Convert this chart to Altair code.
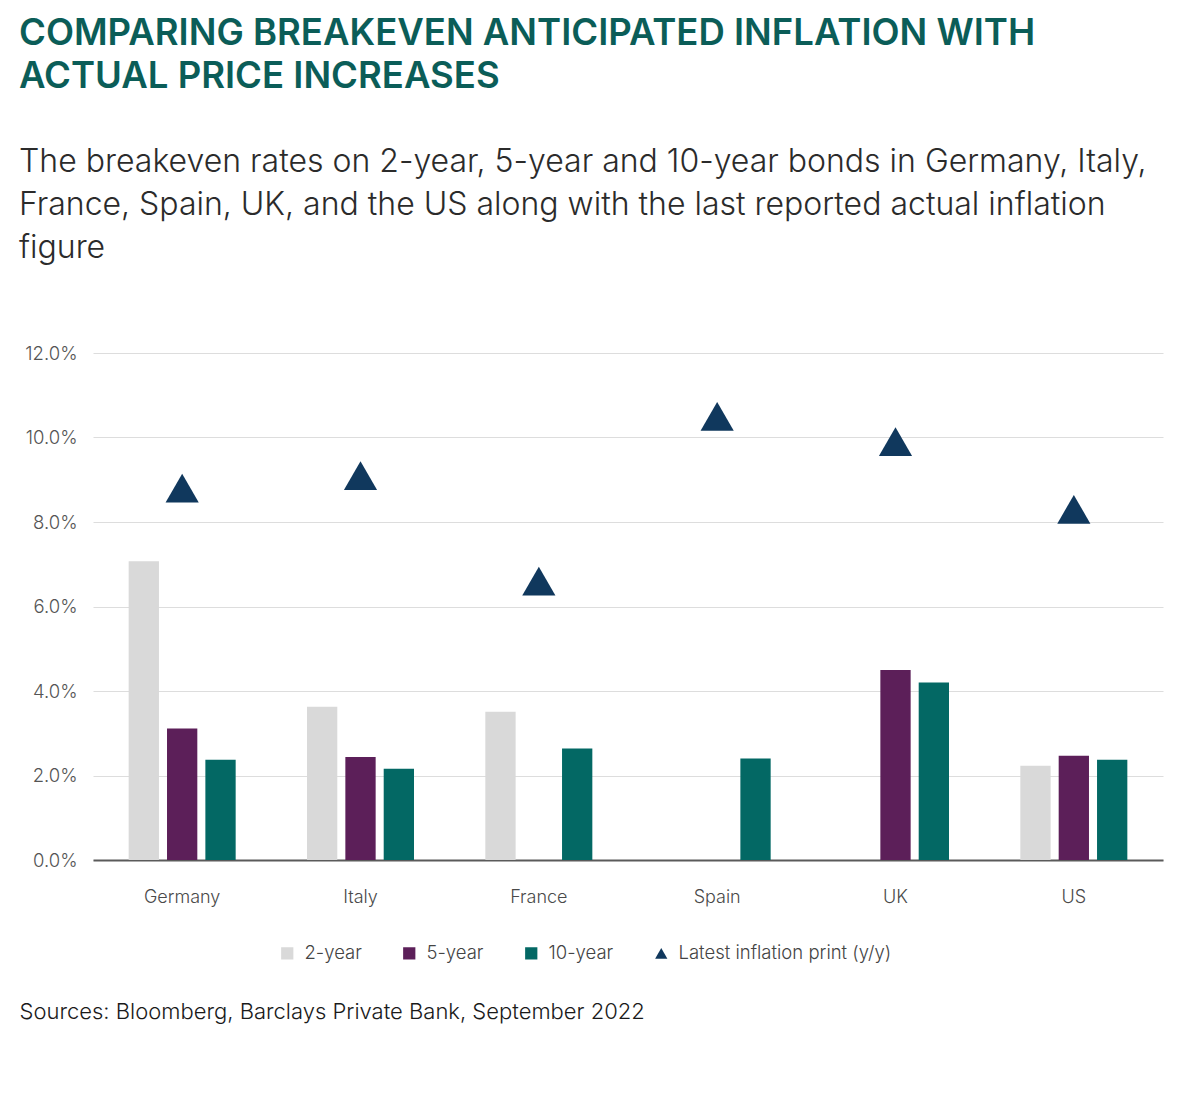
import altair as alt
import pandas as pd

countries = ["Germany", "Italy", "France", "Spain", "UK", "US"]
two_year = [7.07, 3.63, 3.51, None, None, 2.23]
five_year = [3.11, 2.44, None, None, 4.50, 2.47]
ten_year = [2.37, 2.16, 2.64, 2.40, 4.20, 2.37]
latest_print = [8.8, 9.1, 6.6, 10.5, 9.9, 8.3]

series_names = ["2-year", "5-year", "10-year", "Latest inflation print (y/y)"]
series_colors = ["#d9d9d9", "#5c1f59", "#036864", "#10385d"]
y_ticks = [0, 2, 4, 6, 8, 10, 12]

title_lines = ["COMPARING BREAKEVEN ANTICIPATED INFLATION WITH", "ACTUAL PRICE INCREASES"]
subtitle_lines = [
    "The breakeven rates on 2-year, 5-year and 10-year bonds in Germany, Italy,",
    "France, Spain, UK, and the US along with the last reported actual inflation",
    "figure",
]
source_text = "Sources: Bloomberg, Barclays Private Bank, September 2022"

rows = []
for name, vals in zip(series_names[:3], [two_year, five_year, ten_year]):
    for c, v in zip(countries, vals):
        if v is not None:
            rows.append({"country": c, "series": name, "value": v})
bars_df = pd.DataFrame(rows)
pts_df = pd.DataFrame({"country": countries, "series": series_names[3], "value": latest_print})

color_scale = alt.Scale(domain=series_names, range=series_colors)
shape_scale = alt.Scale(domain=series_names, range=["square", "square", "square", "triangle-up"])

FONT = "Inter"

x_enc = alt.X(
    "country:N",
    sort=countries,
    scale=alt.Scale(paddingInner=0.4, paddingOuter=0.2),
    axis=alt.Axis(
        title=source_text,
        titleAnchor="start",
        titleAlign="left",
        titleX=-74,
        titleY=151,
        titleBaseline="middle",
        titleFont=FONT,
        titleFontSize=22,
        titleFontWeight=300,
        titleColor="#1a1a1a",
        labelAngle=0,
        labelFont=FONT,
        labelFontSize=18,
        labelFontWeight=300,
        labelColor="#4a4a4a",
        labelPadding=28,
        ticks=False,
        tickSize=0,
        domainColor="#5a5a5a",
        domainWidth=2,
        grid=False,
    ),
)

y_enc = alt.Y(
    "value:Q",
    scale=alt.Scale(domain=[0, 12], nice=False),
    axis=alt.Axis(
        title=None,
        values=y_ticks,
        labelExpr="format(datum.value, '.1f') + '%'",
        labelFont=FONT,
        labelFontSize=18.5,
        labelFontWeight=300,
        labelColor="#555555",
        labelPadding=16,
        ticks=False,
        domain=False,
        gridColor="#dddddd",
        gridWidth=1.2,
    ),
)

legend = alt.Legend(
    title=None,
    orient="none",
    direction="horizontal",
    legendX=185,
    legendY=591,
    labelFont=FONT,
    labelFontSize=18.5,
    labelFontWeight=300,
    labelColor="#444444",
    labelLimit=0,
    symbolSize=150,
    symbolStrokeWidth=0,
    columnPadding=38,
    labelOffset=8,
)

bars = alt.Chart(bars_df).mark_bar().encode(
    x=x_enc,
    xOffset=alt.XOffset(
        "series:N",
        sort=series_names[:3],
        scale=alt.Scale(domain=series_names[:3], paddingInner=0.21, paddingOuter=0),
    ),
    y=y_enc,
    color=alt.Color("series:N", scale=color_scale, legend=legend),
)

points = alt.Chart(pts_df).mark_point(filled=True, opacity=1, size=1100).encode(
    x=alt.X("country:N", sort=countries),
    y=alt.Y("value:Q"),
    color=alt.Color("series:N", scale=color_scale, legend=legend),
    shape=alt.Shape("series:N", scale=shape_scale, legend=legend),
)

chart = (
    alt.layer(bars, points)
    .properties(
        width=1070,
        height=507,
        title=alt.TitleParams(
            text=title_lines,
            subtitle=subtitle_lines,
            anchor="start",
            font=FONT,
            fontSize=36.5,
            fontWeight=600,
            color="#0b5d58",
            lineHeight=43,
            subtitleFont=FONT,
            subtitleFontSize=32,
            subtitleFontWeight=300,
            subtitleColor="#2b2b2b",
            subtitleLineHeight=43,
            subtitlePadding=52,
            offset=80,
        ),
        padding={"left": 11, "top": 7, "right": 5, "bottom": 5},
    )
    .configure_view(stroke=None)
    .configure_title(limit=0)
)

chart.save("out.html", embed_options={"renderer": "svg", "actions": False})
